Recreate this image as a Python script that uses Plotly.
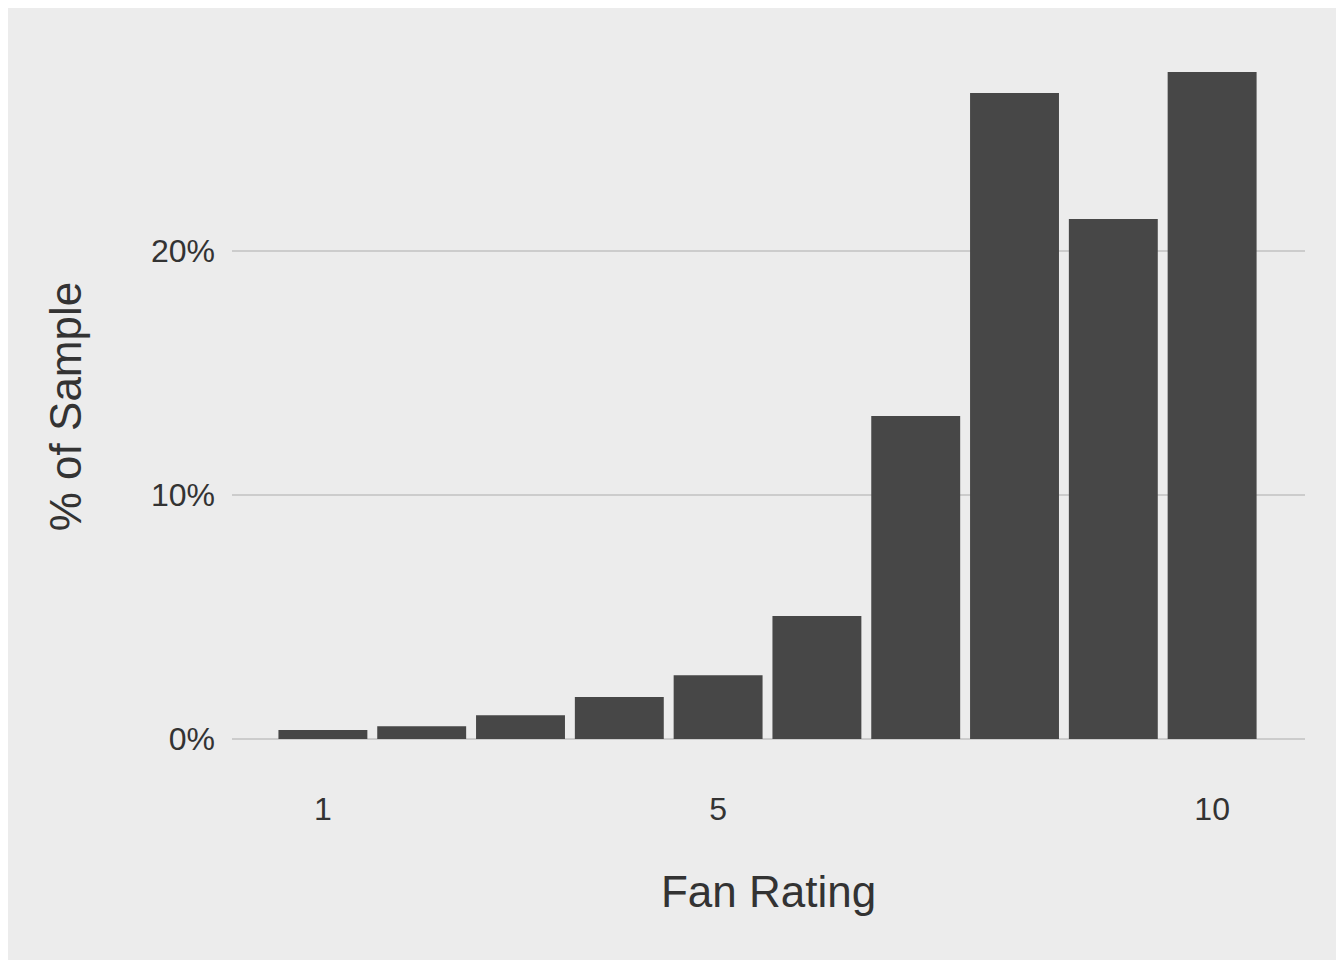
import plotly.graph_objects as go

ratings = [1, 2, 3, 4, 5, 6, 7, 8, 9, 10]
pct = [0.37, 0.53, 0.98, 1.72, 2.62, 5.04, 13.24, 26.48, 21.31, 27.34]
xticks = [1, 5, 10]
yticks = [0, 10, 20]
ylabels = ["0%", "10%", "20%"]

fig = go.Figure(go.Bar(x=ratings, y=pct, marker_color="#474747", marker_line_width=0, width=0.9))
fig.update_layout(
    width=1344, height=960, paper_bgcolor="#ececec", plot_bgcolor="#ececec",
    margin=dict(l=224, r=47, t=32, b=195), showlegend=False,
    font=dict(family="Liberation Sans, Arial", color="#333333", size=32),
)
fig.update_xaxes(range=[0.08, 10.94], tickvals=xticks, showgrid=False, zeroline=False,
                 ticklabelstandoff=14, title=dict(text="Fan Rating", font=dict(size=44), standoff=50))
fig.update_yaxes(range=[-1.39, 28.65], tickvals=yticks, ticktext=ylabels, gridcolor="#cccccc",
                 gridwidth=2, zeroline=False, ticklabelstandoff=16,
                 title=dict(text="% of Sample", font=dict(size=44), standoff=55))
fig.write_html("out.html")
